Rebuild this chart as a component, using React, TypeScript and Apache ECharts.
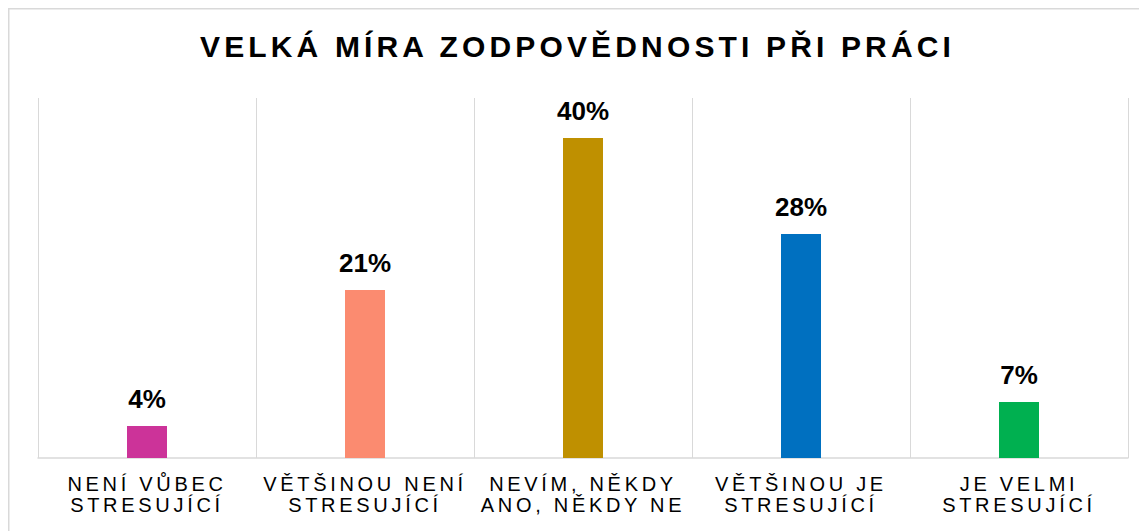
import React, { useEffect, useRef } from "react";
import * as echarts from "echarts";

const TITLE = "VELKÁ MÍRA ZODPOVĚDNOSTI PŘI PRÁCI";
const categories = [
  "NENÍ VŮBEC\nSTRESUJÍCÍ",
  "VĚTŠINOU NENÍ\nSTRESUJÍCÍ",
  "NEVÍM, NĚKDY\nANO, NĚKDY NE",
  "VĚTŠINOU JE\nSTRESUJÍCÍ",
  "JE VELMI\nSTRESUJÍCÍ",
];
const values = [4, 21, 40, 28, 7];
const colors = ["#CC3399", "#FB8B70", "#BF9000", "#0070C0", "#00B050"];

const FONT = "'Liberation Sans', Arial, Helvetica, sans-serif";

export default function App() {
  const ref = useRef<HTMLDivElement>(null);
  useEffect(() => {
    if (!ref.current) return;
    const chart = echarts.init(ref.current, null, { renderer: "svg" });
    const option: any = {
      animation: false,
      backgroundColor: "#ffffff",
      title: {
        text: TITLE,
        left: "center",
        top: 18,
        textStyle: { fontFamily: FONT, fontSize: 30, fontWeight: "bold", color: "#000000" },
      },
      graphic: [
        {
          type: "rect",
          shape: { x: 0.75, y: 0.75, width: 1300, height: 700 },
          style: { fill: "none", stroke: "#d9d9d9", lineWidth: 1.5 },
          silent: true,
        },
      ],
      grid: { left: 30, right: 19, top: 90, bottom: 73 },
      xAxis: {
        type: "category",
        data: categories,
        boundaryGap: true,
        axisLine: { show: true, lineStyle: { color: "#d9d9d9", width: 1.5 } },
        axisTick: { show: false },
        splitLine: { show: true, lineStyle: { color: "#d9d9d9", width: 1 } },
        axisLabel: {
          interval: 0,
          margin: 15,
          fontFamily: FONT,
          fontSize: 20,
          lineHeight: 21,
          color: "#000000",
          align: "center",
        },
      },
      yAxis: {
        type: "value",
        min: 0,
        max: 45,
        show: false,
        splitLine: { show: false },
      },
      series: [
        {
          type: "bar",
          barWidth: 40,
          data: values.map((v, i) => ({ value: v, itemStyle: { color: colors[i] } })),
          label: {
            show: true,
            position: "top",
            distance: 14,
            formatter: "{c}%",
            fontFamily: FONT,
            fontSize: 26,
            fontWeight: "bold",
            color: "#000000",
          },
        },
      ],
    };
    chart.setOption(option);

    const lineSet = new Set<string>();
    categories.forEach((c) => c.split("\n").forEach((l) => lineSet.add(l)));
    const applySpacing = () => {
      const root = ref.current;
      if (!root) return;
      root.querySelectorAll("text").forEach((t) => {
        const txt = (t.textContent || "").trim();
        if (txt === TITLE) {
          (t as SVGTextElement).style.letterSpacing = "4.15px";
        } else if (lineSet.has(txt)) {
          (t as SVGTextElement).style.letterSpacing = "3.7px";
        }
      });
    };
    chart.on("rendered", applySpacing);
    try {
      (chart.getZr() as any).flush();
    } catch (e) {}
    applySpacing();
    const raf = requestAnimationFrame(applySpacing);

    return () => {
      cancelAnimationFrame(raf);
      chart.dispose();
    };
  }, []);
  return <div ref={ref} style={{ width: 1139, height: 523 }} />;
}
